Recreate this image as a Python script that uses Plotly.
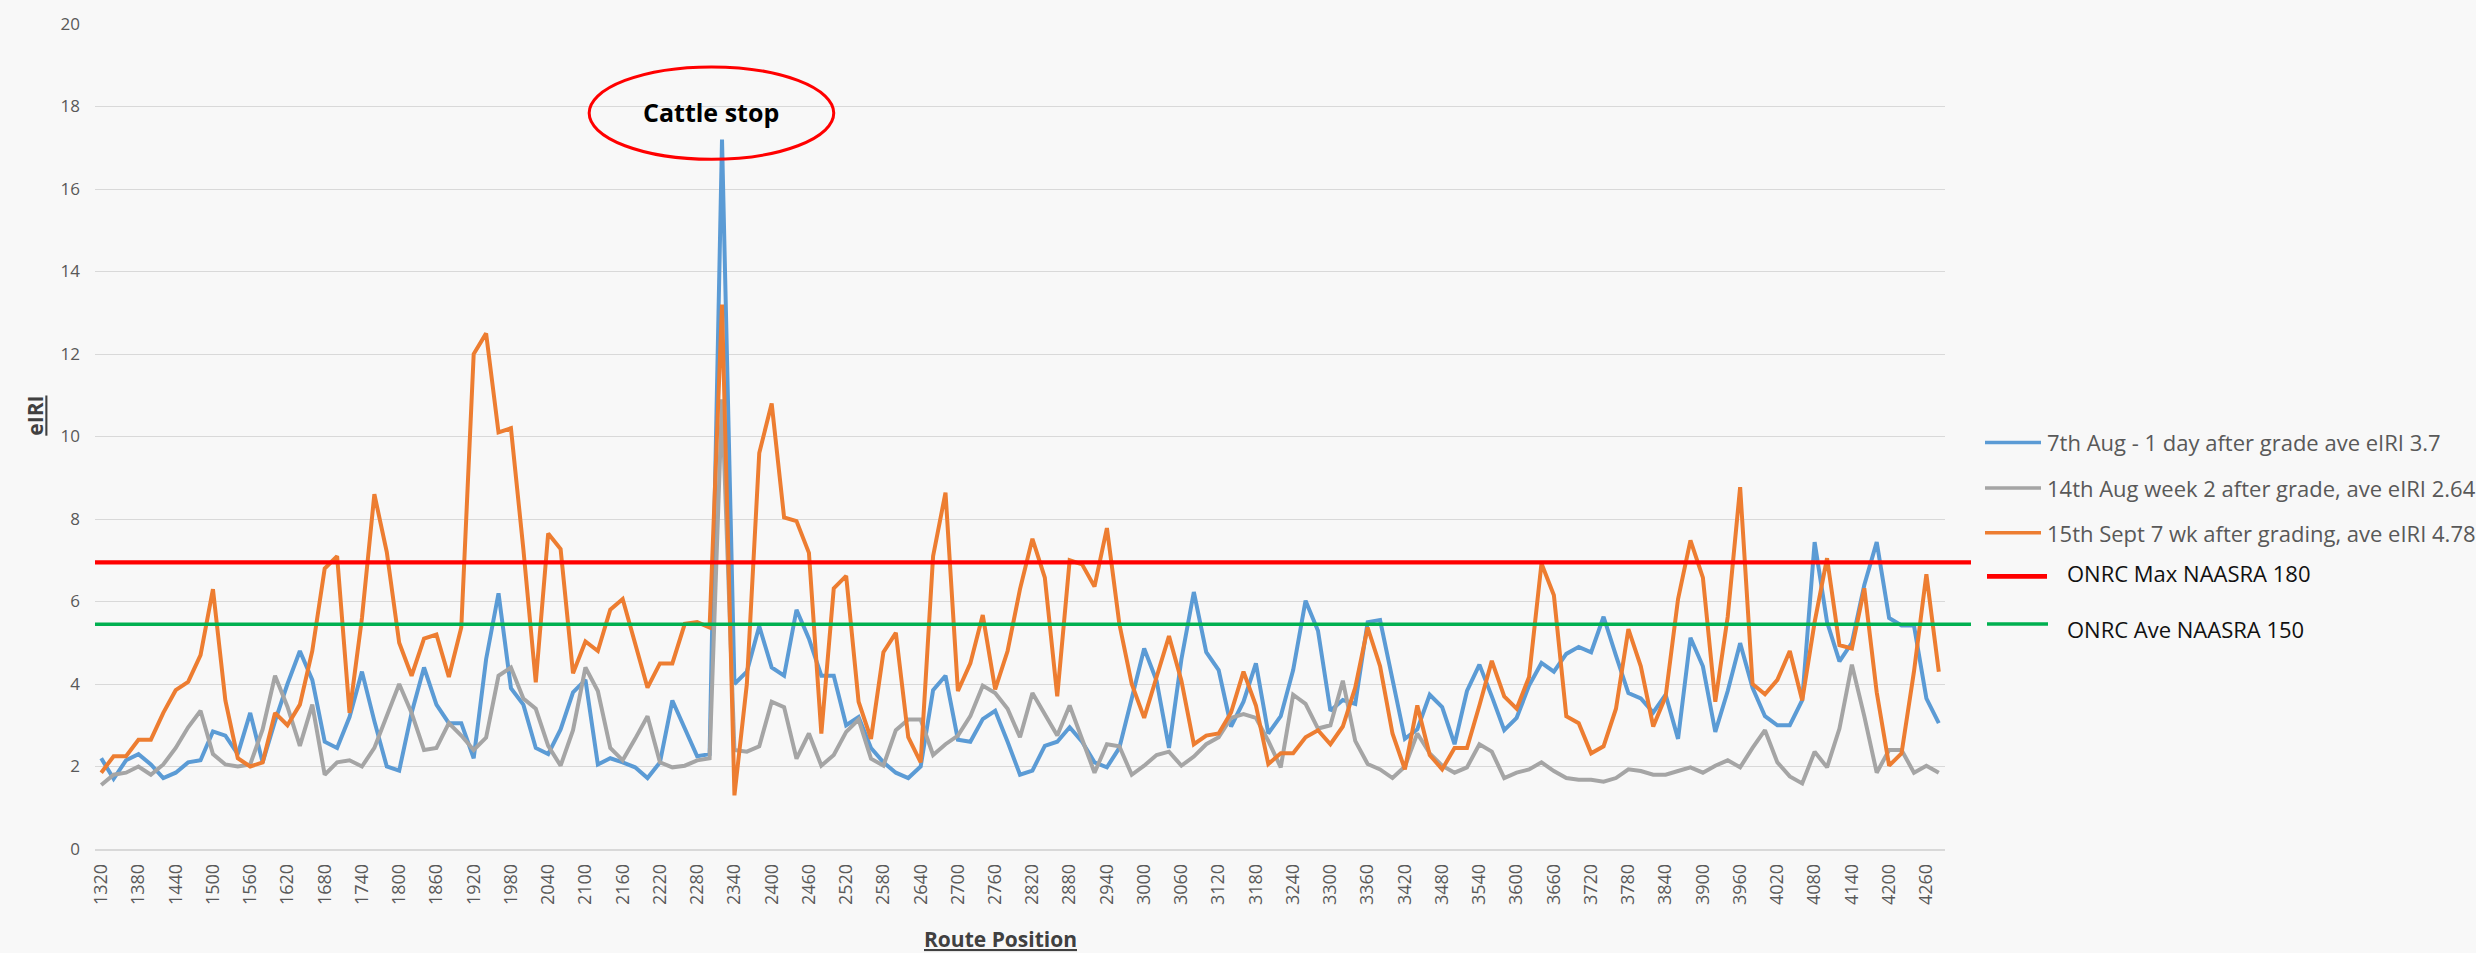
import plotly.graph_objects as go

# ---------------- data ----------------
route_position = list(range(1320, 4281, 20))
tick_labels = list(range(1320, 4261, 60))

aug7 = [2.2, 1.7, 2.15, 2.3, 2.05, 1.72, 1.85, 2.1, 2.15, 2.85,
        2.75, 2.3, 3.3, 2.1, 3.1, 4.0, 4.8, 4.1, 2.6, 2.45,
        3.2, 4.3, 3.1, 2.0, 1.9, 3.3, 4.4, 3.5, 3.05, 3.05,
        2.2, 4.6, 6.2, 3.9, 3.5, 2.45, 2.3, 2.9, 3.8, 4.1,
        2.05, 2.2, 2.1, 1.98, 1.72, 2.1, 3.6, 2.9, 2.25, 2.3,
        17.2, 4.0, 4.3, 5.4, 4.4, 4.2, 5.8, 5.1, 4.2, 4.2,
        3.0, 3.2, 2.45, 2.1, 1.85, 1.72, 2.0, 3.85, 4.2, 2.65,
        2.6, 3.15, 3.35, 2.6, 1.8, 1.9, 2.5, 2.6, 2.95, 2.6,
        2.1, 1.98, 2.45, 3.65, 4.86, 4.08, 2.45, 4.6, 6.23, 4.77,
        4.34, 2.97, 3.57, 4.5, 2.8, 3.22, 4.34, 6.02, 5.29, 3.35,
        3.61, 3.52, 5.5, 5.55, 4.08, 2.67, 2.9, 3.74, 3.44, 2.54,
        3.83, 4.47, 3.7, 2.88, 3.18, 3.96, 4.51, 4.3, 4.73, 4.9,
        4.77, 5.63, 4.69, 3.78, 3.65, 3.31, 3.74, 2.67, 5.12, 4.43,
        2.84, 3.83, 4.99, 3.91, 3.22, 3.0, 3.0, 3.61, 7.44, 5.5,
        4.55, 5.0, 6.4, 7.44, 5.6, 5.42, 5.42, 3.65, 3.05]

aug14 = [1.55, 1.8, 1.85, 2.0, 1.8, 2.05, 2.45, 2.95, 3.35, 2.3,
         2.05, 2.0, 2.05, 2.9, 4.2, 3.45, 2.5, 3.5, 1.8, 2.1,
         2.15, 2.0, 2.45, 3.2, 4.0, 3.3, 2.4, 2.45, 3.05, 2.75,
         2.4, 2.7, 4.2, 4.4, 3.65, 3.4, 2.5, 2.02, 2.88, 4.4,
         3.83, 2.45, 2.15, 2.67, 3.22, 2.1, 1.98, 2.02, 2.15, 2.2,
         10.9, 2.4, 2.36, 2.49, 3.57, 3.44, 2.19, 2.8, 2.02, 2.28,
         2.84, 3.14, 2.19, 2.02, 2.88, 3.14, 3.14, 2.28, 2.54, 2.75,
         3.22, 3.96, 3.78, 3.4, 2.71, 3.78, 3.27, 2.75, 3.48, 2.65,
         1.85, 2.54, 2.49, 1.8, 2.02, 2.28, 2.36, 2.02, 2.24, 2.54,
         2.71, 3.18, 3.27, 3.18, 2.62, 1.98, 3.74, 3.52, 2.92, 3.0,
         4.08, 2.62, 2.06, 1.93, 1.72, 2.0, 2.8, 2.32, 2.02, 1.85,
         1.98, 2.54, 2.36, 1.72, 1.85, 1.93, 2.1, 1.89, 1.72, 1.68,
         1.68, 1.63, 1.72, 1.93, 1.89, 1.8, 1.8, 1.89, 1.98, 1.85,
         2.02, 2.15, 1.98, 2.45, 2.88, 2.1, 1.76, 1.59, 2.36, 1.98,
         2.92, 4.47, 3.22, 1.85, 2.4, 2.4, 1.85, 2.02, 1.85]

sept15 = [1.85, 2.25, 2.25, 2.65, 2.65, 3.3, 3.85, 4.05, 4.7, 6.3,
          3.6, 2.2, 2.0, 2.1, 3.3, 3.0, 3.5, 4.8, 6.8, 7.1,
          3.3, 5.6, 8.6, 7.2, 5.0, 4.2, 5.1, 5.2, 4.17, 5.37,
          12.0, 12.5, 10.1, 10.2, 7.27, 4.04, 7.65, 7.27, 4.26, 5.03,
          4.8, 5.8, 6.06, 4.94, 3.91, 4.5, 4.5, 5.46, 5.5, 5.37,
          13.2, 1.3, 4.0, 9.6, 10.8, 8.04, 7.95, 7.18, 2.8, 6.32,
          6.62, 3.57, 2.67, 4.77, 5.24, 2.71, 2.1, 7.1, 8.64, 3.83,
          4.5, 5.67, 3.87, 4.8, 6.3, 7.52, 6.58, 3.7, 7.0, 6.9,
          6.36, 7.78, 5.46, 4.0, 3.18, 4.17, 5.16, 4.08, 2.54, 2.75,
          2.8, 3.31, 4.3, 3.48, 2.06, 2.32, 2.32, 2.71, 2.88, 2.54,
          2.97, 3.91, 5.37, 4.43, 2.8, 1.93, 3.48, 2.28, 1.93, 2.45,
          2.45, 3.48, 4.56, 3.7, 3.4, 4.17, 6.92, 6.15, 3.22, 3.05,
          2.32, 2.49, 3.4, 5.33, 4.43, 2.97, 3.7, 6.06, 7.48, 6.58,
          3.57, 5.63, 8.77, 4.0, 3.75, 4.1, 4.8, 3.6, 5.5, 7.05,
          4.94, 4.86, 6.32, 3.8, 2.02, 2.32, 4.3, 6.66, 4.3]

onrc_max = 6.95
onrc_ave = 5.45

series_names = ["7th Aug - 1 day after grade ave eIRI 3.7",
                "14th Aug week 2 after grade, ave eIRI 2.64",
                "15th Sept 7 wk after grading, ave eIRI 4.78"]
ref_names = ["ONRC Max NAASRA 180", "ONRC Ave NAASRA 150"]

assert len(aug7) == len(route_position) == len(aug14) == len(sept15)

# ---------------- style ----------------
W, H = 2476, 953
PL, PR, PT, PB = 95, 1945, 17, 849
FONT = "Open Sans"
TXT = "#595959"
colors = ["#5B9BD5", "#A5A5A5", "#ED7D31"]
BG = "#f8f8f8"


def px(x):
    return (x - PL) / (PR - PL)


def py(y):
    return (PB - y) / (PB - PT)


fig = go.Figure()
for name, vals, col in zip(series_names, [aug7, aug14, sept15], colors):
    fig.add_trace(go.Scatter(x=route_position, y=vals, mode="lines", name=name,
                             line=dict(color=col, width=4), showlegend=False))

shapes = []
annotations = []

# reference lines
shapes.append(dict(type="line", xref="paper", yref="y", x0=0, x1=px(1971),
                   y0=onrc_max, y1=onrc_max, line=dict(color="#FF0000", width=4.2)))
shapes.append(dict(type="line", xref="paper", yref="y", x0=0, x1=px(1971),
                   y0=onrc_ave, y1=onrc_ave, line=dict(color="#00B050", width=3.5)))

# cattle stop ellipse
shapes.append(dict(type="circle", xref="x", yref="y", x0=2106, x1=2500, y0=16.72, y1=18.96,
                   line=dict(color="#FF0000", width=3)))
annotations.append(dict(x=2303, y=17.86, xref="x", yref="y", text="<b>Cattle stop</b>",
                        showarrow=False, font=dict(family=FONT, size=25, color="#000000")))

# manual legend
leg_y = [439, 485, 530]
for name, col, yy in zip(series_names, colors, leg_y):
    shapes.append(dict(type="line", xref="paper", yref="paper", x0=px(1985), x1=px(2041),
                       y0=py(yy), y1=py(yy), line=dict(color=col, width=3.5)))
    annotations.append(dict(x=px(2045), y=py(yy), xref="paper", yref="paper", text=name,
                            xanchor="left", yanchor="middle", showarrow=False,
                            font=dict(family=FONT, size=22, color=TXT)))
shapes.append(dict(type="line", xref="paper", yref="paper", x0=px(1987), x1=px(2047),
                   y0=py(574), y1=py(574), line=dict(color="#FF0000", width=4.7)))
annotations.append(dict(x=px(2065), y=py(571), xref="paper", yref="paper", text=ref_names[0],
                        xanchor="left", yanchor="middle", showarrow=False,
                        font=dict(family=FONT, size=22, color="#111111")))
shapes.append(dict(type="line", xref="paper", yref="paper", x0=px(1987), x1=px(2048),
                   y0=py(622), y1=py(622), line=dict(color="#00B050", width=3.5)))
annotations.append(dict(x=px(2065), y=py(627), xref="paper", yref="paper", text=ref_names[1],
                        xanchor="left", yanchor="middle", showarrow=False,
                        font=dict(family=FONT, size=22, color="#111111")))

# axis titles
annotations.append(dict(x=px(35), y=py(412), xref="paper", yref="paper", text="<b><u>eIRI</u></b>",
                        textangle=-90, showarrow=False, xanchor="center", yanchor="middle",
                        font=dict(family=FONT, size=21, color="#404040")))
annotations.append(dict(x=px(1000), y=py(940), xref="paper", yref="paper",
                        text="<b><u>Route Position</u></b>", showarrow=False,
                        xanchor="center", yanchor="middle",
                        font=dict(family=FONT, size=21, color="#404040")))

fig.update_layout(
    width=W, height=H,
    margin=dict(l=PL, r=W - PR, t=PT, b=H - PB, pad=0),
    paper_bgcolor=BG, plot_bgcolor=BG,
    shapes=shapes, annotations=annotations,
    xaxis=dict(range=[1310, 4290], tickmode="array", tickvals=tick_labels,
               ticktext=[str(t) for t in tick_labels], tickangle=-90,
               tickfont=dict(family=FONT, size=18, color=TXT),
               showgrid=False, zeroline=False, showline=True, linecolor="#d9d9d9",
               linewidth=1.5, ticks="", ticklabelstandoff=6),
    yaxis=dict(range=[0, 20], dtick=2, tick0=0, gridcolor="#d9d9d9", gridwidth=1,
               tickfont=dict(family=FONT, size=17, color=TXT), zeroline=False,
               showline=False, ticks="", ticklabelstandoff=14),
)

fig.write_html("out.html", config={"displayModeBar": False},
               post_script="document.body.style.margin='0';")
